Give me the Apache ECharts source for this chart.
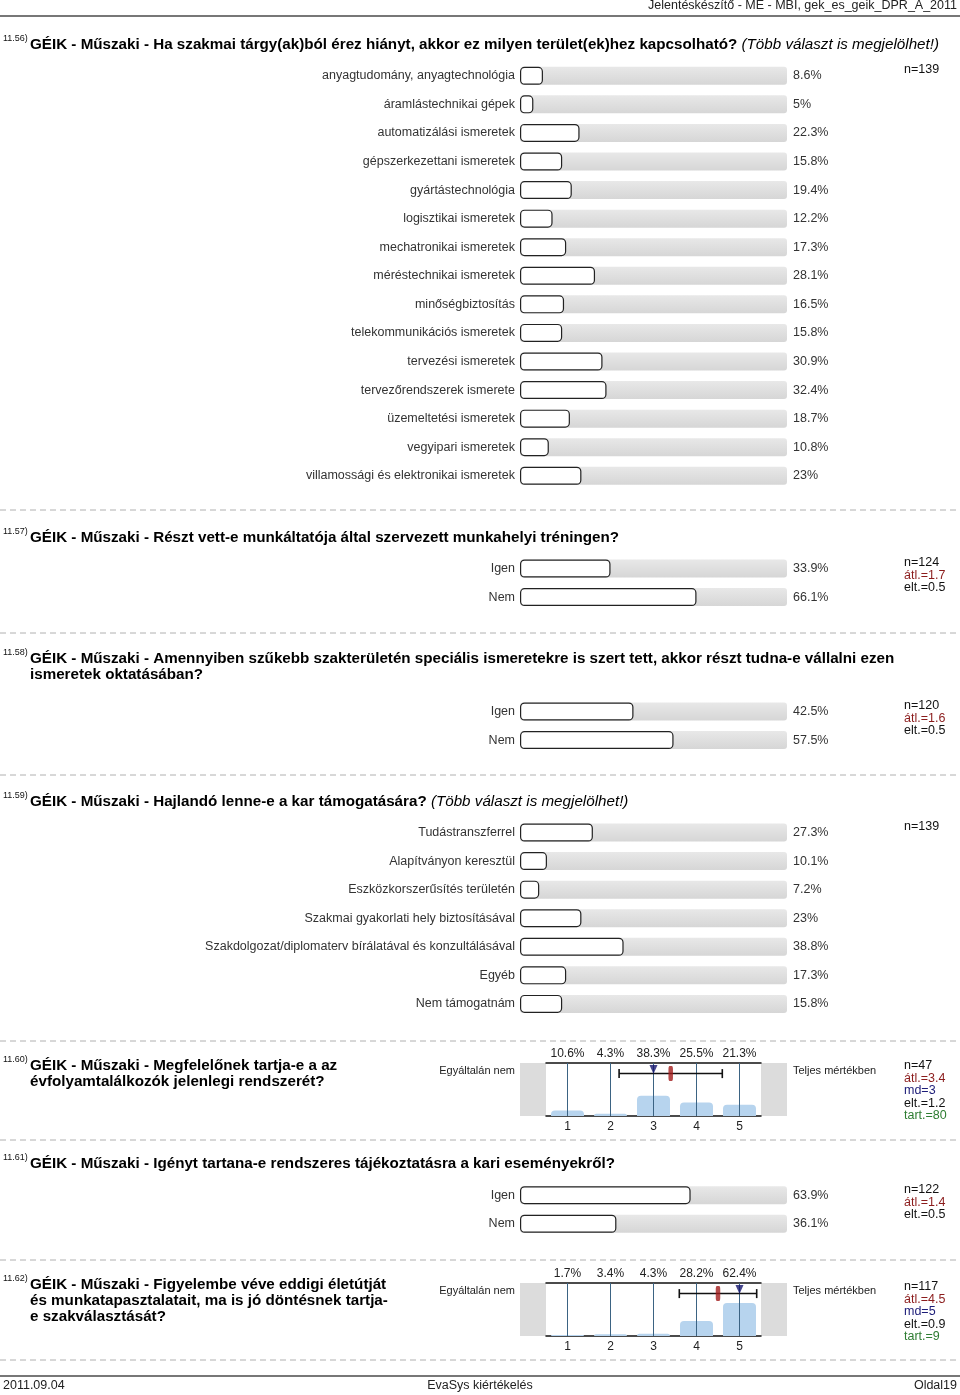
<!DOCTYPE html>
<html>
<head>
<meta charset="utf-8">
<script src="https://cdn.jsdelivr.net/npm/echarts@6/dist/echarts.min.js"></script>
<style>
html,body{margin:0;padding:0;background:#fff;}
#main{width:960px;height:1395px;}
</style>
</head>
<body>
<div id="main"></div>
<script>
// ---------- DATA ----------
const q56Cats = ['anyagtudomány, anyagtechnológia','áramlástechnikai gépek','automatizálási ismeretek','gépszerkezettani ismeretek','gyártástechnológia','logisztikai ismeretek','mechatronikai ismeretek','méréstechnikai ismeretek','minőségbiztosítás','telekommunikációs ismeretek','tervezési ismeretek','tervezőrendszerek ismerete','üzemeltetési ismeretek','vegyipari ismeretek','villamossági és elektronikai ismeretek'];
const q56Vals = [8.6,5,22.3,15.8,19.4,12.2,17.3,28.1,16.5,15.8,30.9,32.4,18.7,10.8,23];
const q56Stats = ['n=139'];

const q57Cats = ['Igen','Nem'];
const q57Vals = [33.9,66.1];
const q57Stats = ['n=124','átl.=1.7','elt.=0.5'];

const q58Cats = ['Igen','Nem'];
const q58Vals = [42.5,57.5];
const q58Stats = ['n=120','átl.=1.6','elt.=0.5'];

const q59Cats = ['Tudástranszferrel','Alapítványon keresztül','Eszközkorszerűsítés területén','Szakmai gyakorlati hely biztosításával','Szakdolgozat/diplomaterv bírálatával és konzultálásával','Egyéb','Nem támogatnám'];
const q59Vals = [27.3,10.1,7.2,23,38.8,17.3,15.8];
const q59Stats = ['n=139'];

const q60Scale = ['1','2','3','4','5'];
const q60Vals = [10.6,4.3,38.3,25.5,21.3];
const q60Mean = 3.4, q60Median = 3, q60Sd = 1.2;
const q60Stats = ['n=47','átl.=3.4','md=3','elt.=1.2','tart.=80'];

const q61Cats = ['Igen','Nem'];
const q61Vals = [63.9,36.1];
const q61Stats = ['n=122','átl.=1.4','elt.=0.5'];

const q62Scale = ['1','2','3','4','5'];
const q62Vals = [1.7,3.4,4.3,28.2,62.4];
const q62Mean = 4.5, q62Median = 5, q62Sd = 0.9;
const q62Stats = ['n=117','átl.=4.5','md=5','elt.=0.9','tart.=9'];

const scaleLeft = 'Egyáltalán nem';
const scaleRight = 'Teljes mértékben';

// ---------- LAYOUT / STYLE ----------
const FF = '"Liberation Sans", Arial, Helvetica, sans-serif';
const ROW = 28.57;
const TFS = 15.2;   // title font size
const LFS = 12.5;   // label font size
const statColors = {n:'#111', 'átl.':'#8b1c1c', md:'#1c1c78', 'elt.':'#111', 'tart.':'#2e7d32'};

const grids = [], xAxes = [], yAxes = [], series = [], graphics = [];

function addBarSection(cats, vals, top) {
  const gi = grids.length;
  grids.push({left:520, width:267, top:top, height:cats.length*ROW});
  const xi = xAxes.length, yi = yAxes.length;
  xAxes.push({type:'value', gridIndex:gi, min:0, max:100, show:false});
  yAxes.push({type:'category', gridIndex:gi, data:cats, inverse:true,
    axisLine:{show:false}, axisTick:{show:false}, splitLine:{show:false},
    axisLabel:{margin:5, fontSize:LFS, color:'#333', fontFamily:FF, interval:0}});
  series.push({type:'bar', xAxisIndex:xi, yAxisIndex:yi, silent:true, z:1,
    data:cats.map(()=>100), barWidth:18,
    itemStyle:{borderRadius:3, color:new echarts.graphic.LinearGradient(0,0,0,1,[{offset:0,color:'#e8e8e8'},{offset:1,color:'#d6d6d6'}])},
    label:{show:true, position:'right', distance:6, fontSize:LFS, color:'#333', fontFamily:FF,
      formatter:(p)=>vals[p.dataIndex]+'%'}});
  series.push({type:'bar', xAxisIndex:xi, yAxisIndex:yi, silent:true, z:2,
    data:vals, barWidth:18, barGap:'-100%',
    itemStyle:{color:'#fff', borderColor:'#222', borderWidth:1.2, borderRadius:4}});
}

function addHist(scale, vals, mean, median, sd, top) {
  const gi = grids.length;
  grids.push({left:546, width:215, top:top, height:53});
  const xb = xAxes.length;
  xAxes.push({type:'category', gridIndex:gi, data:scale, position:'bottom',
    axisLine:{lineStyle:{color:'#111', width:1.5}}, axisTick:{show:false},
    axisLabel:{margin:5, fontSize:12, color:'#222', fontFamily:FF, interval:0}});
  xAxes.push({type:'category', gridIndex:gi, data:vals.map(v=>v+'%'), position:'top',
    axisLine:{lineStyle:{color:'#111', width:1.5}}, axisTick:{show:false},
    axisLabel:{margin:3, fontSize:12, color:'#222', fontFamily:FF, interval:0}});
  xAxes.push({type:'value', gridIndex:gi, min:0.5, max:5.5, show:false});
  const yi = yAxes.length;
  yAxes.push({type:'value', gridIndex:gi, min:0, max:100, show:false});
  series.push({type:'bar', xAxisIndex:xb, yAxisIndex:yi, silent:true, z:1,
    data:vals, barWidth:33,
    itemStyle:{color:'#b7d4ee', borderRadius:[4,4,0,0]},
    markLine:{silent:true, symbol:'none', label:{show:false}, z:3,
      lineStyle:{color:'#3b6383', width:1, type:'solid'},
      data:scale.map(s=>({xAxis:s}))}});
  series.push({type:'line', xAxisIndex:xb+2, yAxisIndex:yi, silent:true, z:5,
    data:[[mean-sd,80],[mean+sd,80]], symbol:'rect', symbolSize:[1.6,9], showSymbol:true,
    lineStyle:{color:'#111', width:1.5}, itemStyle:{color:'#111'}});
  series.push({type:'scatter', xAxisIndex:xb+2, yAxisIndex:yi, silent:true, z:6,
    data:[[median,80]], symbol:'triangle', symbolRotate:180, symbolSize:[8,9], symbolOffset:[0,-4],
    itemStyle:{color:'#15156e'}});
  series.push({type:'scatter', xAxisIndex:xb+2, yAxisIndex:yi, silent:true, z:7,
    data:[[mean,80]], symbol:'roundRect', symbolSize:[4.5,15],
    itemStyle:{color:'#a31b1b'}});
  graphics.push({type:'rect', shape:{x:520, y:top, width:26, height:53}, style:{fill:'#dcdcdc'}, silent:true});
  graphics.push({type:'rect', shape:{x:761, y:top, width:26, height:53}, style:{fill:'#dcdcdc'}, silent:true});
  graphics.push({type:'text', x:515, y:top+8, style:{text:scaleLeft, fontSize:11, fontFamily:FF, fill:'#222', align:'right', verticalAlign:'middle'}});
  graphics.push({type:'text', x:793, y:top+8, style:{text:scaleRight, fontSize:11, fontFamily:FF, fill:'#222', align:'left', verticalAlign:'middle'}});
}

function addStats(lines, y0) {
  lines.forEach((t,i)=>{
    const key = t.split('=')[0];
    graphics.push({type:'text', x:904, y:y0 + i*12.5, style:{text:t, fontSize:12.5, fontFamily:FF,
      fill: statColors[key] || '#111', align:'left', verticalAlign:'middle'}});
  });
}

function addTitle(num, lines, italic, y) {
  graphics.push({type:'text', x:3, y:y-6, style:{text:num, fontSize:9, fontFamily:FF, fill:'#111', align:'left', verticalAlign:'middle'}});
  let txt = lines.map(l=>'{b|'+l+'}').join('\n');
  if (italic) txt += '{i| '+italic+'}';
  graphics.push({type:'text', x:30, y:y-8, style:{text:txt, fontSize:TFS, lineHeight:16, fontFamily:FF, fill:'#000', align:'left', verticalAlign:'top',
    rich:{b:{fontWeight:'bold', fontSize:TFS, lineHeight:16, fontFamily:FF, fill:'#000'},
          i:{fontStyle:'italic', fontWeight:'normal', fontSize:TFS, lineHeight:16, fontFamily:FF, fill:'#000'}}}});
}

function dashed(y) {
  graphics.push({type:'line', shape:{x1:0, y1:y, x2:960, y2:y}, style:{stroke:'#b0b0b0', lineWidth:1, lineDash:[6,4]}, silent:true});
}

// header / footer
graphics.push({type:'text', x:957, y:6, style:{text:'Jelentéskészítő - ME - MBI, gek_es_geik_DPR_A_2011', fontSize:12.5, fontFamily:FF, fill:'#222', align:'right', verticalAlign:'middle'}});
graphics.push({type:'line', shape:{x1:0, y1:16, x2:960, y2:16}, style:{stroke:'#777', lineWidth:2}, silent:true});
graphics.push({type:'line', shape:{x1:0, y1:1376, x2:960, y2:1376}, style:{stroke:'#777', lineWidth:2}, silent:true});
graphics.push({type:'text', x:3, y:1386, style:{text:'2011.09.04', fontSize:12.5, fontFamily:FF, fill:'#222', align:'left', verticalAlign:'middle'}});
graphics.push({type:'text', x:480, y:1386, style:{text:'EvaSys kiértékelés', fontSize:12.5, fontFamily:FF, fill:'#222', align:'center', verticalAlign:'middle'}});
graphics.push({type:'text', x:957, y:1386, style:{text:'Oldal19', fontSize:12.5, fontFamily:FF, fill:'#222', align:'right', verticalAlign:'middle'}});

// sections
addTitle('11.56)', ['GÉIK - Műszaki - Ha szakmai tárgy(ak)ból érez hiányt, akkor ez milyen terület(ek)hez kapcsolható?'], '(Több választ is megjelölhet!)', 45);
addBarSection(q56Cats, q56Vals, 61.5);
addStats(q56Stats, 70);
dashed(510);

addTitle('11.57)', ['GÉIK - Műszaki - Részt vett-e munkáltatója által szervezett munkahelyi tréningen?'], null, 538);
addBarSection(q57Cats, q57Vals, 554.2);
addStats(q57Stats, 563);
dashed(633);

addTitle('11.58)', ['GÉIK - Műszaki - Amennyiben szűkebb szakterületén speciális ismeretekre is szert tett, akkor részt tudna-e vállalni ezen','ismeretek oktatásában?'], null, 659);
addBarSection(q58Cats, q58Vals, 697.2);
addStats(q58Stats, 706);
dashed(775);

addTitle('11.59)', ['GÉIK - Műszaki - Hajlandó lenne-e a kar támogatására?'], '(Több választ is megjelölhet!)', 802);
addBarSection(q59Cats, q59Vals, 818.2);
addStats(q59Stats, 827);
dashed(1041);

addTitle('11.60)', ['GÉIK - Műszaki - Megfelelőnek tartja-e a az','évfolyamtalálkozók jelenlegi rendszerét?'], null, 1066);
addHist(q60Scale, q60Vals, q60Mean, q60Median, q60Sd, 1063);
addStats(q60Stats, 1066);
dashed(1140);

addTitle('11.61)', ['GÉIK - Műszaki - Igényt tartana-e rendszeres tájékoztatásra a kari eseményekről?'], null, 1164);
addBarSection(q61Cats, q61Vals, 1180.9);
addStats(q61Stats, 1190);
dashed(1260);

addTitle('11.62)', ['GÉIK - Műszaki - Figyelembe véve eddigi életútját','és munkatapasztalatait, ma is jó döntésnek tartja-','e szakválasztását?'], null, 1285);
addHist(q62Scale, q62Vals, q62Mean, q62Median, q62Sd, 1283);
addStats(q62Stats, 1287);
dashed(1360);

const chart = echarts.init(document.getElementById('main'), null, {renderer:'canvas', width:960, height:1395});
chart.setOption({
  animation:false,
  backgroundColor:'#fff',
  grid:grids, xAxis:xAxes, yAxis:yAxes, series:series,
  graphic:{elements:graphics}
});
</script>
</body>
</html>
